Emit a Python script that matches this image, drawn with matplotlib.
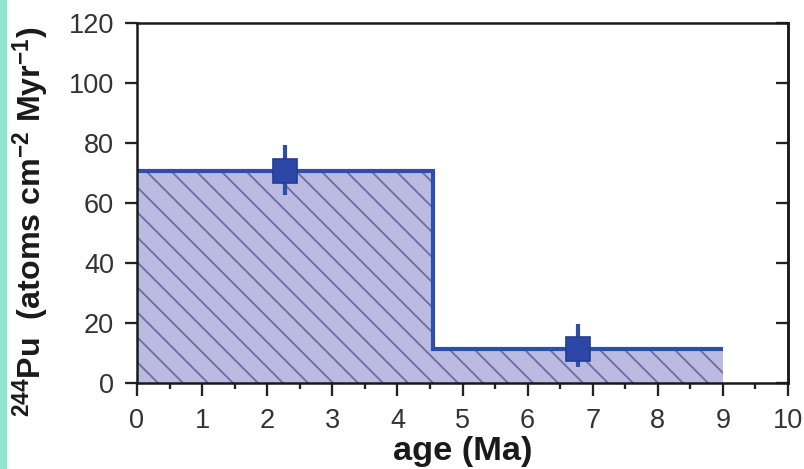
import matplotlib
matplotlib.use("Agg")
import matplotlib.pyplot as plt
from matplotlib.patches import Rectangle

# ---- data ----
bin_edges = [0.0, 4.55, 9.0]          # age (Ma)
bin_rates = [70.8, 11.3]              # 244Pu atoms cm^-2 Myr^-1
point_age = [2.28, 6.77]
point_rate = [70.7, 11.2]
err_low = [8.0, 5.9]
err_high = [8.6, 8.6]
x_ticks = [0, 1, 2, 3, 4, 5, 6, 7, 8, 9, 10]
y_ticks = [0, 20, 40, 60, 80, 100, 120]

DPI = 150
plt.rcParams['font.family'] = ['Liberation Sans', 'DejaVu Sans']
plt.rcParams['mathtext.fontset'] = 'custom'
plt.rcParams['mathtext.rm'] = 'Liberation Sans'
plt.rcParams['mathtext.bf'] = 'Liberation Sans:bold'
plt.rcParams['hatch.linewidth'] = 0.9

fig = plt.figure(figsize=(805 / DPI, 469 / DPI), dpi=DPI, facecolor='white')
ax = fig.add_axes([137 / 805, 1 - 383 / 469, (788 - 137) / 805, (383 - 23) / 469])

line_col = '#2F4EAA'
fill_col = '#BBBBE2'
hatch_col = '#6E6EA8'

ax.stairs(bin_rates, bin_edges, fill=True, facecolor=fill_col,
          edgecolor=hatch_col, linewidth=0, hatch='\\\\', zorder=1)
ax.stairs(bin_rates, bin_edges, baseline=None, color=line_col,
          linewidth=2.0, zorder=2)
ax.errorbar(point_age, point_rate, yerr=[err_low, err_high], fmt='s',
            color=line_col, ms=11.5, mfc='#2C47A6', mec='#243C94', mew=0.8,
            elinewidth=2.0, capsize=0, zorder=3)

ax.set_xlim(0, 10)
ax.set_ylim(0, 120)
ax.set_xticks(x_ticks)
ax.set_xticks([v + 0.5 for v in x_ticks[:-1]], minor=True)
ax.set_yticks(y_ticks)
ax.tick_params(axis='both', which='major', direction='out', length=6,
               width=1.1, labelsize=13, colors='#222222',
               labelcolor='#333333', right=False, top=False)
ax.tick_params(axis='x', which='major', pad=6)
ax.tick_params(axis='y', which='major', pad=5)
ax.tick_params(axis='x', which='minor', direction='out', length=3, width=1.1,
               colors='#222222')
for s in ax.spines.values():
    s.set_linewidth(1.2)
    s.set_color('#1a1a1a')

# inward ticks on the right spine
sec = ax.secondary_yaxis('right')
sec.set_yticks(y_ticks)
sec.tick_params(direction='in', length=6, width=1.1, colors='#222222',
                labelright=False)
sec.spines['right'].set_linewidth(1.2)
sec.spines['right'].set_color('#1a1a1a')

ax.set_xlabel('age (Ma)', fontsize=16.5, fontweight='bold', labelpad=1,
              color='#1a1a1a')
ax.set_ylabel(r'$\mathbf{^{244}}$Pu  (atoms cm$\mathbf{^{-2}}$ Myr$\mathbf{^{-1}}$)',
              fontsize=15.5, fontweight='bold', color='#1a1a1a')
ax.yaxis.set_label_coords(-0.13, 0.448)

# screenshot edge
fig.patches.append(Rectangle((0, 0), 7 / 805, 1, transform=fig.transFigure,
                             facecolor='#8FE6CF', edgecolor='none', zorder=-1))

fig.savefig('out.png', dpi=DPI, facecolor='white')
